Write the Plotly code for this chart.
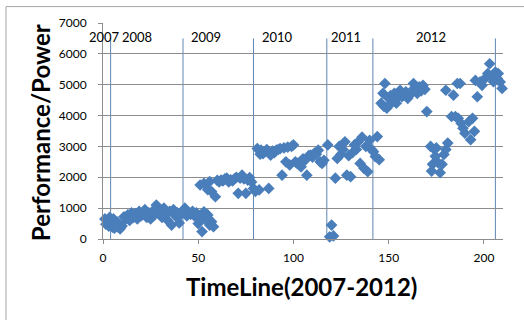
import plotly.graph_objects as go

# ---- data ----
x_2008 = [1, 1.5, 2, 3, 3.5, 4, 5, 5.5, 6, 7, 7.5, 8, 9, 10,
          11, 12, 13, 14, 15, 16, 17, 18, 19, 20, 21, 22, 23, 24, 25, 26, 27, 28, 29, 30,
          31, 32, 33, 34, 35, 36, 37, 38, 39, 40, 41, 42, 43, 44, 45, 46, 47, 48, 49, 50]
y_2008 = [650, 480, 600, 420, 700, 520, 380, 650, 350, 450, 550, 380, 330, 420,
          720, 650, 780, 600, 850, 700, 820, 650, 900, 750, 800, 950, 700, 850, 650, 900,
          780, 1100, 950, 800, 700, 1000, 850, 600, 900, 450, 950, 750, 850, 520, 800, 900,
          1000, 750, 850, 800, 900, 750, 850, 700]

x_2009 = [50, 51, 52, 53, 54, 55, 56, 57, 58,
          51, 53, 55, 56, 57, 59, 60, 61, 62, 63, 64, 65, 66, 67, 68, 69, 70, 71, 72, 73,
          74, 75, 76, 77, 78, 79]
y_2009 = [500, 700, 240, 880, 620, 780, 450, 560, 400,
          1750, 1800, 1600, 1860, 1540, 1370, 1900, 1850, 1910, 1880, 1950, 1970, 1850,
          1920, 1880, 1950, 2000, 1480, 1970, 2070, 1950, 1480, 1910, 1990, 1850, 1640]

x_2010 = [80, 81, 82, 82.5, 83, 84, 85, 86, 87, 88, 89, 90, 91, 92, 93, 94, 95, 96, 97,
          98, 99, 100, 101, 102, 103, 104, 105, 106, 107, 108, 109, 110, 111, 112, 113,
          114, 115, 116]
y_2010 = [1540, 2930, 1590, 2750, 2880, 2770, 2820, 2900, 1640, 2720, 2850, 2800, 2880,
          2900, 2930, 2070, 2950, 2500, 2980, 2400, 3000, 3050, 2500, 2450, 2400, 2340,
          2600, 2550, 2070, 2700, 2720, 2650, 2780, 2750, 2880, 2500, 2450, 2550]

x_2011 = [118, 119, 120, 121, 122, 123, 124, 125, 126, 127, 128, 129, 130, 131, 132,
          133, 134, 135, 136, 137, 138, 139, 140, 141, 142, 143, 144, 145]
y_2011 = [3050, 70, 450, 100, 1970, 2610, 3000, 2750, 2900, 3150, 2070, 2700, 2020,
          2800, 3050, 2900, 3150, 2450, 3300, 2290, 3000, 2180, 3200, 2900, 2830, 2670,
          3320, 2570]

x_2012 = [146, 147, 147.5, 148, 149, 150, 150.5, 151, 152, 153, 154, 155, 156, 157, 158,
          159, 160, 161, 162, 163, 164, 165, 166, 167, 168, 169, 170,
          172, 172.5, 173, 174, 174.5, 175, 176, 177, 178, 179, 180, 181,
          183, 185, 186.5, 188, 189, 190, 192, 193, 194, 195,
          180, 184, 186, 187.5, 195.5, 196.5, 198, 199, 200.5, 202, 203, 204, 205, 206,
          207, 207.5, 208.5, 209.5]
y_2012 = [4400, 4720, 4300, 5040, 4240, 4560, 4350, 4650, 4450, 4720, 4400, 4600, 4820,
          4610, 4700, 4770, 4560, 4660, 4800, 5040, 4880, 4720, 4930, 4800, 4980, 4850, 4130,
          3000, 2200, 2420, 2900, 2680, 2950, 2470, 2150, 2420, 2740, 2900, 3110,
          3970, 3970, 3910, 3750, 3590, 3430, 3800, 3220, 3910, 3490,
          4820, 4660, 5040, 5040, 5140, 4610, 5090, 4980, 5200, 5360, 5680, 5250, 5100,
          5410, 5200, 5360, 5090, 4880]

year_bounds = [4, 42, 79, 117.5, 141.7, 206]
year_labels = ["2007", "2008", "2009", "2010", "2011", "2012"]
year_label_x = [0.7, 18, 54, 91.5, 127.7, 172]
line_top = 6500
label_y = 6550

x_ticks = [0, 50, 100, 150, 200]

xs = x_2008 + x_2009 + x_2010 + x_2011 + x_2012
ys = y_2008 + y_2009 + y_2010 + y_2011 + y_2012

MARK = "#4A7EBB"
GRID = "#8C8C8C"
FONT = "Lato"

fig = go.Figure()
fig.add_trace(go.Scatter(
    x=xs, y=ys, mode="markers", cliponaxis=False,
    marker=dict(symbol="diamond", size=9, color=MARK, line=dict(width=0)),
    showlegend=False, hoverinfo="skip"))

for b in year_bounds:
    fig.add_shape(type="line", xref="x", yref="y", x0=b, x1=b, y0=0, y1=line_top,
                  line=dict(color="#5F86B3", width=1), layer="below")

for lab, lx in zip(year_labels, year_label_x):
    fig.add_annotation(x=lx, y=label_y, xref="x", yref="y", text=lab, showarrow=False,
                       xanchor="center", yanchor="middle",
                       font=dict(family=FONT, size=13, color="#000000"))

# outer chart frame
fig.add_shape(type="rect", xref="paper", yref="paper", x0=-0.2425, x1=1.2, y0=-0.6, y1=1.076,
              line=dict(color="#A6A6A6", width=1), layer="below")

fig.add_annotation(text="<b>Performance/Power</b>", xref="paper", yref="paper",
                   x=-0.1575, y=0.49, textangle=-90, showarrow=False,
                   xanchor="center", yanchor="middle",
                   font=dict(family=FONT, size=24, color="#000000"))
fig.add_annotation(text="<b>TimeLine(2007-2012)</b>", xref="paper", yref="paper",
                   x=0.495, y=-0.222, showarrow=False,
                   xanchor="center", yanchor="middle",
                   font=dict(family=FONT, size=24, color="#000000"))

fig.update_layout(
    width=524, height=320,
    margin=dict(l=103, r=21, t=23, b=81),
    paper_bgcolor="white", plot_bgcolor="white",
    xaxis=dict(range=[0, 210], tickvals=x_ticks, showgrid=False, zeroline=False,
               showline=True, linecolor=GRID, linewidth=1, ticks="outside", ticklen=4,
               tickcolor=GRID, ticklabelstandoff=4,
               tickfont=dict(family=FONT, size=12, color="#000000")),
    yaxis=dict(range=[0, 7000], dtick=1000, showgrid=True, gridcolor=GRID, gridwidth=1,
               zeroline=False, showline=True, linecolor=GRID, linewidth=1,
               ticks="outside", ticklen=4, tickcolor=GRID, ticklabelstandoff=9,
               tickfont=dict(family=FONT, size=12, color="#000000")),
)

fig.write_html("out.html", config={"displayModeBar": False},
               post_script="document.body.style.margin='0';document.body.style.overflow='hidden';")
